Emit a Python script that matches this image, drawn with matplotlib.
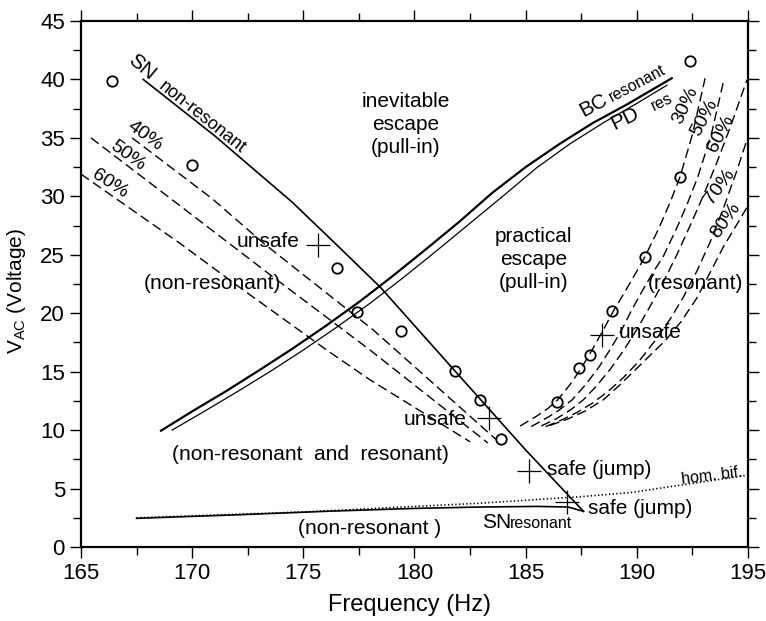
import matplotlib
matplotlib.use("Agg")
import matplotlib.pyplot as plt
from matplotlib.ticker import MultipleLocator

plt.rcParams['font.family'] = ['Liberation Sans', 'DejaVu Sans']
plt.rcParams['mathtext.fontset'] = 'custom'
plt.rcParams['mathtext.rm'] = 'Liberation Sans'

# ---- data ----
x_ticks = [165, 170, 175, 180, 185, 190, 195]
y_ticks = [0, 5, 10, 15, 20, 25, 30, 35, 40, 45]

sn_nonres_f = [167.8, 171.0, 174.5, 176.5, 178.45, 181.8, 185.0, 187.6]
sn_nonres_v = [40.0, 35.2, 29.5, 25.85, 22.25, 15.1, 8.3, 3.05]

sn_res_f = [167.5, 172.0, 176.0, 180.0, 183.0, 185.5, 186.9, 187.6]
sn_res_v = [2.45, 2.75, 3.05, 3.3, 3.42, 3.47, 3.42, 3.05]

hom_f = [167.5, 175.0, 182.9, 187.45, 189.7, 192.0, 195.0]
hom_v = [2.5, 3.0, 3.74, 4.3, 4.65, 5.3, 6.15]

bc_f = [168.6, 170.0, 171.5, 173.0, 174.5, 176.0, 177.5, 179.0, 180.5,
        182.0, 183.5, 185.0, 186.5, 188.0, 189.5, 191.57]
bc_v = [9.95, 11.6, 13.3, 15.1, 16.95, 18.9, 20.95, 23.15, 25.45,
        27.8, 30.3, 32.5, 34.45, 36.25, 37.8, 40.1]

pd_f = [169.1, 170.5, 172.0, 173.5, 175.0, 176.5, 178.0, 179.5, 181.0,
        182.5, 184.0, 185.5, 187.0, 188.5, 190.0, 191.35]
pd_v = [10.0, 11.55, 13.25, 15.0, 16.85, 18.8, 20.85, 23.05, 25.35,
        27.7, 30.05, 32.45, 34.5, 36.3, 37.95, 39.5]

nr40_f = [167.3, 170.9, 173.2, 178.15, 183.7]
nr40_v = [35.0, 29.8, 26.0, 18.56, 9.15]
nr50_f = [165.45, 169.45, 173.5, 178.0, 183.3]
nr50_v = [35.0, 29.2, 23.3, 16.85, 8.9]
nr60_f = [165.0, 169.45, 172.0, 176.05, 178.0, 182.5]
nr60_v = [31.9, 25.98, 22.4, 16.85, 14.3, 9.0]

r30_f = [184.75, 185.5, 186.0, 186.4, 187.0, 187.5, 188.0, 188.5, 188.95,
         189.5, 190.0, 190.37, 191.0, 191.5, 191.95, 192.5, 193.07]
r30_v = [10.35, 11.2, 11.85, 12.5, 13.9, 15.3, 16.9, 18.6, 20.2,
         21.95, 23.6, 24.85, 27.3, 29.5, 31.7, 35.3, 40.1]
r50_f = [185.25, 186.0, 186.5, 187.1, 187.7, 188.3, 188.8, 189.3, 189.75,
         190.3, 190.8, 191.2, 191.8, 192.3, 192.75, 193.35, 193.93]
r50_v = [10.3, 11.1, 11.7, 12.6, 13.9, 15.4, 16.9, 18.5, 20.2,
         22.1, 23.7, 24.9, 27.3, 29.5, 31.7, 35.3, 40.1]
r60_f = [185.7, 186.4, 187.0, 187.6, 188.2, 188.8, 189.4, 190.0, 190.6,
         191.2, 191.8, 192.4, 193.0, 193.6, 194.2, 194.95]
r60_v = [10.35, 11.0, 11.7, 12.6, 13.8, 15.2, 16.8, 18.6, 20.6,
         22.7, 25.0, 27.5, 30.1, 32.9, 35.9, 39.95]
r70_f = [185.9, 186.6, 187.3, 188.0, 188.7, 189.4, 190.1, 190.8, 191.5,
         192.1, 192.7, 193.3, 193.9, 194.5, 195.0]
r70_v = [10.3, 10.85, 11.5, 12.3, 13.3, 14.5, 15.9, 17.6, 19.5,
         21.4, 23.6, 26.1, 29.0, 32.2, 35.1]
r80_f = [186.1, 186.9, 187.7, 188.5, 189.2, 189.9, 190.6, 191.3, 192.0,
         192.7, 193.3, 193.9, 194.5, 195.0]
r80_v = [10.4, 10.95, 11.65, 12.6, 13.8, 15.1, 16.4, 17.7, 19.3,
         21.3, 23.5, 25.7, 27.6, 29.2]

circ_f = [166.38, 169.98, 176.5, 177.4, 179.38, 181.82, 182.95, 183.89,
          186.4, 187.42, 187.9, 188.9, 190.37, 191.95, 192.37]
circ_v = [39.86, 32.68, 23.84, 20.13, 18.48, 15.08, 12.57, 9.21,
          12.43, 15.28, 16.4, 20.2, 24.83, 31.68, 41.6]

plus_f = [175.68, 183.33, 185.17, 186.85, 188.42]
plus_v = [25.83, 11.0, 6.53, 3.88, 18.14]

# ---- figure ----
fig = plt.figure(figsize=(7.66, 6.21), dpi=100)
ax = fig.add_axes([0.1057, 0.1192, 0.8708, 0.8470])

dash = dict(color='black', lw=1.0, dashes=(7, 3.5))

ax.plot(sn_nonres_f, sn_nonres_v, color='black', lw=1.2)
ax.plot(sn_res_f, sn_res_v, color='black', lw=1.2)
ax.plot(hom_f, hom_v, color='black', lw=1.2, dashes=(0.8, 1.4))
ax.plot(bc_f, bc_v, color='black', lw=1.6)
ax.plot(pd_f, pd_v, color='black', lw=0.9)

for f, v in [(nr40_f, nr40_v), (nr50_f, nr50_v), (nr60_f, nr60_v),
             (r30_f, r30_v), (r50_f, r50_v), (r60_f, r60_v),
             (r70_f, r70_v), (r80_f, r80_v)]:
    ax.plot(f, v, **dash)

ax.plot(circ_f, circ_v, 'o', ms=7.5, mfc='none', mec='black', mew=1.3)
ax.plot(plus_f, plus_v, '+', ms=17, mec='black', mew=0.9)

# ---- labels on the chart ----
fs = 15
ax.text(179.6, 36.15, 'inevitable\nescape\n(pull-in)', ha='center', va='center',
        fontsize=fs, linespacing=1.25)
ax.text(185.37, 24.6, 'practical\nescape\n(pull-in)', ha='center', va='center',
        fontsize=fs, linespacing=1.25)
ax.text(170.9, 22.56, '(non-resonant)', ha='center', va='center', fontsize=fs)
ax.text(192.65, 22.5, '(resonant)', ha='center', va='center', fontsize=fs)
ax.text(169.08, 7.87, '(non-resonant  and  resonant)', ha='left', va='center', fontsize=fs)
ax.text(174.78, 1.6, '(non-resonant )', ha='left', va='center', fontsize=fs)

ax.text(174.85, 26.1, 'unsafe', ha='right', va='center', fontsize=fs)
ax.text(182.35, 10.92, 'unsafe', ha='right', va='center', fontsize=fs)
ax.text(189.17, 18.33, 'unsafe', ha='left', va='center', fontsize=fs)
ax.text(185.98, 6.59, 'safe (jump)', ha='left', va='center', fontsize=fs)
ax.text(187.82, 3.3, 'safe (jump)', ha='left', va='center', fontsize=fs)

ax.text(183.02, 1.6, 'SN', ha='left', va='baseline', fontsize=fs)
ax.text(184.3, 1.6, 'resonant', ha='left', va='baseline', fontsize=11.5)

ax.text(193.4, 6.07, 'hom. bif.', ha='center', va='center', fontsize=11.5, rotation=7)

rot_kw = dict(ha='center', va='center', rotation_mode='anchor')
ax.text(167.73, 41.08, 'SN', fontsize=fs, rotation=-40, **rot_kw)
ax.text(170.43, 36.76, 'non-resonant', fontsize=13, rotation=-38.5, **rot_kw)

ax.text(188.05, 37.8, 'BC', fontsize=fs, rotation=28, **rot_kw)
ax.text(190.0, 39.67, 'resonant', fontsize=11.5, rotation=28, **rot_kw)
ax.text(189.47, 36.67, 'PD', fontsize=fs, rotation=26, **rot_kw)
ax.text(191.12, 38.1, 'res', fontsize=11.5, rotation=26, **rot_kw)

pct = 14
ax.text(167.88, 35.16, '40%', fontsize=pct, rotation=-36, **rot_kw)
ax.text(167.08, 33.45, '50%', fontsize=pct, rotation=-36, **rot_kw)
ax.text(166.3, 31.1, '60%', fontsize=pct, rotation=-33, **rot_kw)
ax.text(192.2, 37.75, '30%', fontsize=pct, rotation=65, **rot_kw)
ax.text(193.03, 36.76, '50%', fontsize=pct, rotation=62, **rot_kw)
ax.text(193.77, 35.39, '60%', fontsize=pct, rotation=63, **rot_kw)
ax.text(193.75, 30.88, '70%', fontsize=pct, rotation=54, **rot_kw)
ax.text(194.0, 27.9, '80%', fontsize=pct, rotation=55, **rot_kw)

# ---- axes ----
ax.set_xlim(165, 195)
ax.set_ylim(0, 45)
ax.set_xticks(x_ticks)
ax.set_yticks(y_ticks)
ax.xaxis.set_minor_locator(MultipleLocator(2.5))
ax.yaxis.set_minor_locator(MultipleLocator(2.5))
ax.tick_params(which='both', direction='out', top=True, right=True,
               labeltop=False, labelright=False, width=1.0, labelsize=16)
ax.tick_params(which='major', length=8)
ax.tick_params(which='minor', length=5.5)
for s in ax.spines.values():
    s.set_linewidth(1.6)

ax.set_xlabel('Frequency (Hz)', fontsize=17, va='center')
ax.xaxis.set_label_coords(0.492, -0.110)
ax.set_ylabel(r'V$_{\mathrm{AC}}$ (Voltage)', fontsize=15, va='center')
ax.yaxis.set_label_coords(-0.096, 0.487)

fig.savefig('out.png', dpi=100)
